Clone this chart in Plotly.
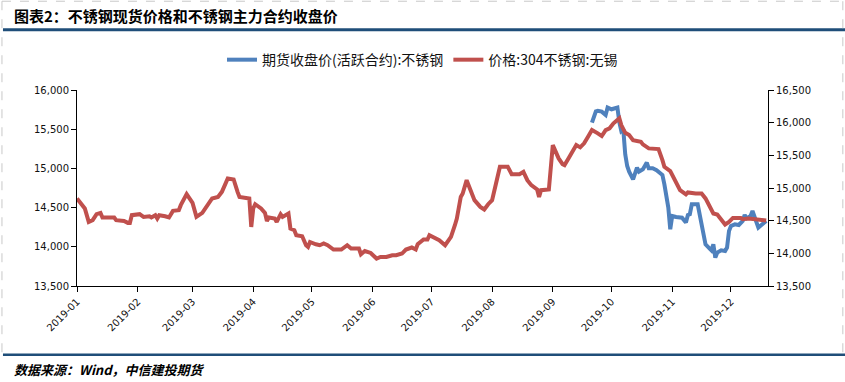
import pandas as pd
import plotly.graph_objects as go

# ---------------- data ----------------
spot_days = [0, 3, 4, 6, 8, 10, 12, 13, 19, 20, 24, 26, 27, 28, 32, 34, 37, 38, 40, 41, 42, 45, 47, 49,
             52, 53, 56, 59, 61, 64, 67, 69, 72, 74, 77, 80, 82, 83, 88, 89, 90, 91, 94, 96, 97, 98,
             101, 102, 104, 105, 108, 109, 111, 112, 115, 117, 118, 119, 122, 124, 126, 128, 131,
             135, 138, 140, 144, 145, 147, 150, 153, 155, 158, 161, 163, 166, 168, 171, 173, 174,
             177, 179, 180, 182, 185, 188, 190, 191, 193, 194, 196, 197, 199, 201, 203, 206, 208,
             210, 212, 214, 216, 220, 222, 226, 228, 230, 232, 235, 236, 237, 241, 243, 244, 246,
             248, 249, 251, 253, 255, 257, 259, 261, 263, 266, 268, 270, 272, 274, 277, 278, 280,
             282, 284, 288, 289, 292, 297, 299, 300, 303, 306, 308, 311, 312, 316, 319, 321, 323,
             325, 327, 329, 331, 333, 335, 339, 340, 343, 346, 348, 352]
spot_values = [14840, 14711, 14687, 14481, 14507, 14599, 14619, 14549, 14549, 14507, 14496, 14466,
               14466, 14584, 14599, 14558, 14568, 14549, 14584, 14533, 14584, 14568, 14549, 14650,
               14660, 14737, 14906, 14772, 14558, 14619, 14737, 14840, 14864, 14941, 15146, 15131,
               14941, 14864, 14840, 14404, 14686, 14752, 14686, 14619, 14496, 14549, 14533, 14481,
               14599, 14558, 14610, 14380, 14354, 14277, 14262, 14124, 14098, 14174, 14139, 14124,
               14150, 14124, 14058, 14058, 14124, 14073, 14073, 13986, 14036, 14006, 13920, 13944,
               13944, 13971, 13971, 13997, 14058, 14089, 14058, 14139, 14211, 14211, 14277, 14242,
               14200, 14124, 14200, 14251, 14430, 14533, 14864, 14916, 15120, 14967, 14814, 14711,
               14671, 14752, 14814, 15070, 15324, 15324, 15212, 15212, 15248, 15120, 15044, 14978,
               14864, 14967, 14978, 15657, 15580, 15453, 15366, 15350, 15453, 15554, 15657, 15622,
               15683, 15784, 15887, 15836, 15795, 15887, 15913, 15990, 16066, 15963, 15845, 15810,
               15733, 15707, 15668, 15606, 15596, 15427, 15324, 15258, 15094, 14967, 14901, 14932,
               14916, 14916, 14840, 14737, 14610, 14594, 14507, 14441, 14481, 14542, 14542, 14522,
               14533, 14522, 14502, 14502]

fut_days = [263, 265, 266, 268, 270, 271, 273, 276, 277, 278, 279, 280, 281, 282, 284, 285, 286, 287,
            289, 290, 291, 292, 294, 296, 298, 299, 300, 302, 303, 304, 306, 309, 311, 312, 313, 314,
            317, 318, 319, 321, 323, 324, 325, 326, 327, 329, 331, 332, 333, 334, 336, 338, 340, 341,
            342, 344, 345, 347, 348, 350, 352]
fut_values = [15584, 15728, 15735, 15724, 15681, 15776, 15754, 15776, 15588, 15477, 15499, 15180,
              15031, 14959, 14861, 14946, 15010, 14959, 14989, 15031, 15074, 15001, 15001, 14976,
              14934, 14916, 14797, 14500, 14223, 14393, 14380, 14372, 14309, 14406, 14415, 14542,
              14542, 14415, 14245, 14032, 13981, 13955, 14032, 13862, 13926, 13955, 13946, 13990,
              14202, 14265, 14287, 14278, 14329, 14406, 14363, 14393, 14457, 14287, 14245, 14287,
              14329]

fut_name = "期货收盘价(活跃合约):不锈钢"
spot_name = "价格:304不锈钢:无锡"
title_text = "图表2：不锈钢现货价格和不锈钢主力合约收盘价"
source_text = "数据来源：Wind，中信建投期货"

base = pd.Timestamp("2019-01-01")
spot_dates = base + pd.to_timedelta(spot_days, unit="D")
fut_dates = base + pd.to_timedelta(fut_days, unit="D")

# ---------------- layout geometry ----------------
W, H = 845, 382
PL, PR, PT, PB = 77, 767.7, 90, 286.5


def fx(px):
    return (px - PL) / (PR - PL)


def fy(py):
    return (PB - py) / (PB - PT)


BLUE = "#4f81bd"
RED = "#c0504d"
NAVY = "#1f4e79"
FONT = "DejaVu Sans"
CJK = "Noto Sans CJK SC"

fig = go.Figure()
fig.add_trace(go.Scatter(x=fut_dates, y=fut_values, name=fut_name, mode="lines",
                         line=dict(color=BLUE, width=4), yaxis="y"))
fig.add_trace(go.Scatter(x=spot_dates, y=spot_values, name=spot_name, mode="lines",
                         line=dict(color=RED, width=4), yaxis="y2"))

axis_common = dict(showgrid=False, zeroline=False, showline=True, linecolor="black", linewidth=1,
                   ticks="outside", ticklen=5, tickcolor="black", tickwidth=1,
                   tickfont=dict(family=FONT, size=10, color="#111"))

fig.update_layout(
    width=W, height=H,
    margin=dict(l=PL, r=W - PR, t=PT, b=H - PB, pad=0, autoexpand=False),
    paper_bgcolor="white", plot_bgcolor="white",
    showlegend=True,
    legend=dict(orientation="h", x=0.5, xanchor="center", y=fy(60), yanchor="middle",
                font=dict(family=CJK, size=14, color="#111"), itemwidth=30,
                bgcolor="rgba(0,0,0,0)", tracegroupgap=0),
    xaxis=dict(type="date", range=["2019-01-01", "2019-12-19 22:00"], dtick="M1",
               tick0="2019-01-01", tickformat="%Y-%m", tickangle=-45, **axis_common),
    yaxis=dict(range=[13500, 16000], dtick=500, tickformat=",", **axis_common),
    yaxis2=dict(range=[13500, 16500], dtick=500, tickformat=",", overlaying="y", side="right",
                **axis_common),
)

shapes = [
    # title rule and source rule
    dict(type="line", xref="paper", yref="paper", x0=fx(3), x1=fx(845), y0=fy(29.5), y1=fy(29.5),
         line=dict(color=NAVY, width=3)),
    dict(type="line", xref="paper", yref="paper", x0=fx(3), x1=fx(845), y0=fy(355.5), y1=fy(355.5),
         line=dict(color=NAVY, width=2.5)),
    # dashed frame
    dict(type="line", xref="paper", yref="paper", x0=fx(2), x1=fx(2), y0=fy(1), y1=fy(356),
         line=dict(color="#c8c8c8", width=1, dash="dash")),
    dict(type="line", xref="paper", yref="paper", x0=fx(842.5), x1=fx(842.5), y0=fy(1), y1=fy(356),
         line=dict(color="#c8c8c8", width=1, dash="dash")),
    dict(type="line", xref="paper", yref="paper", x0=fx(2), x1=fx(842.5), y0=fy(1), y1=fy(1),
         line=dict(color="#c8c8c8", width=1, dash="dash")),
]
fig.update_layout(shapes=shapes)

fig.add_annotation(text="<b>" + title_text + "</b>", xref="paper", yref="paper", x=fx(12), y=fy(15),
                   xanchor="left", yanchor="middle", showarrow=False,
                   font=dict(family=CJK, size=15, color="black"))
fig.add_annotation(text="<b><i>" + source_text + "</i></b>", xref="paper", yref="paper", x=fx(12),
                   y=fy(370), xanchor="left", yanchor="middle", showarrow=False,
                   font=dict(family=CJK, size=13, color="black"))

fig.write_html("out.html", config={"displayModeBar": False},
               post_script="document.body.style.margin='0';document.body.style.overflow='hidden';")
